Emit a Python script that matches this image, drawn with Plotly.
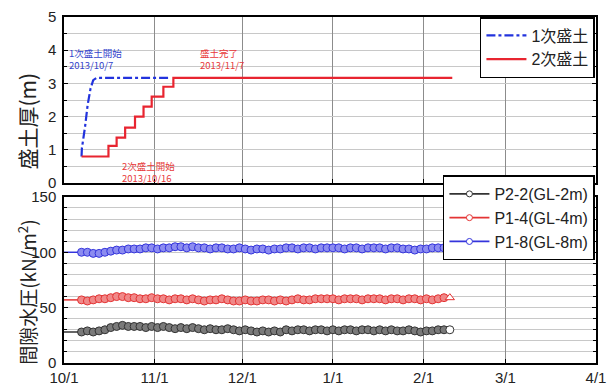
import plotly.graph_objects as go
import pandas as pd

# ---- top panel: embankment thickness (m) ----
fill1_dates = ["2013-10-07 00:00", "2013-10-07 03:00", "2013-10-08 05:00", "2013-10-09 02:00",
               "2013-10-10 02:00", "2013-10-11 00:00", "2013-10-12 05:00", "2013-11-06 07:00"]
fill1_vals = [0.8, 1.05, 1.7, 2.35, 2.85, 3.1, 3.17, 3.17]

fill2_dates = ["2013-10-07 00:00", "2013-10-16 05:00", "2013-10-19 00:00", "2013-10-21 22:00",
               "2013-10-25 07:00", "2013-10-28 05:00", "2013-10-31 00:00", "2013-11-04 00:00",
               "2013-11-07 10:00", "2014-02-10 20:00"]
fill2_vals = [0.8, 1.12, 1.37, 1.67, 2.0, 2.3, 2.6, 2.9, 3.17, 3.17]

# ---- bottom panel: pore water pressure (kN/m2), every 2 days from 2013-10-07 ----
start_date = "2013-10-07"
lead_dates = ["2013-10-01", "2013-10-07"]
p22 = [28, 29, 28, 29, 30,
       32, 33, 34, 33, 33,
       33, 32, 33, 32, 33, 32, 31, 32,
       31, 32, 31, 30, 31, 30, 30, 31, 30, 29,
       30, 29, 28, 29, 28, 29, 28, 30, 29, 30, 30, 29, 30, 30, 29,
       30, 29, 30, 30, 29, 30, 30, 29, 30, 29, 30, 29, 29, 30, 29, 28, 29, 29, 30, 30, 30]
p14 = [57, 56, 57, 58, 58,
       59, 60, 60, 59, 59,
       58, 58, 59, 58, 58, 57, 58, 58,
       57, 58, 57, 56, 57, 57, 58, 57, 56, 56,
       57, 56, 56, 57, 57, 56, 57, 56, 57, 58, 57, 57, 58, 58, 58,
       58, 57, 58, 58, 58, 57, 58, 58, 58, 57, 58, 58, 57, 58, 58, 57, 58, 57, 58, 59, 59]
p18 = [100, 100, 99, 99, 100,
       101, 102, 102, 103, 103,
       103, 104, 104, 103, 104, 104, 105, 105,
       104, 105, 104, 104, 103, 104, 104, 103, 103, 104,
       103, 102, 103, 103, 102, 103, 103, 104, 104, 103, 104, 104, 103, 104, 104,
       104, 104, 103, 104, 104, 103, 104, 104, 104, 103, 104, 104, 103, 103, 102, 103, 103, 104, 104, 104, 105]
lead_vals = {"p22": 28, "p14": 57, "p18": 100}

x_ticks = ["2013-10-01", "2013-11-01", "2013-12-01", "2014-01-01", "2014-02-01", "2014-03-01", "2014-04-01"]
x_ticklabels = ["10/1", "11/1", "12/1", "1/1", "2/1", "3/1", "4/1"]

FONT = "Liberation Sans, Arial, Noto Sans CJK JP"
JP = "Noto Sans CJK JP, Liberation Sans"

fig = go.Figure()

fig.add_trace(go.Scatter(x=fill1_dates, y=fill1_vals, mode="lines", name="1次盛土",
                         line=dict(color="#2233dd", width=2.2, dash="dashdot"),
                         xaxis="x", yaxis="y", legend="legend"))
fig.add_trace(go.Scatter(x=fill2_dates, y=fill2_vals, mode="lines", name="2次盛土",
                         line=dict(color="#e82530", width=2.2, shape="hv"),
                         xaxis="x", yaxis="y", legend="legend"))

series = [
    ("P2-2(GL-2m)", p22, "p22", "#333333", "#7a7a7a", "circle"),
    ("P1-4(GL-4m)", p14, "p14", "#e43434", "#f08888", "triangle-up"),
    ("P1-8(GL-8m)", p18, "p18", "#3434dc", "#8c8cf0", "square"),
]
for name, vals, key, col, fillc, endsym in series:
    dates = pd.date_range(start_date, periods=len(vals), freq="2D")
    n = len(vals)
    fig.add_trace(go.Scatter(x=lead_dates, y=[lead_vals[key]] * 2, mode="lines",
                             line=dict(color=col, width=1.5), showlegend=False,
                             xaxis="x2", yaxis="y2", hoverinfo="skip"))
    fig.add_trace(go.Scatter(x=dates, y=vals, mode="lines+markers", showlegend=False,
                             line=dict(color=col, width=1.5),
                             marker=dict(size=8,
                                         symbol=["circle"] * (n - 1) + [endsym],
                                         color=[fillc] * (n - 1) + ["white"],
                                         line=dict(color=col, width=1)),
                             xaxis="x2", yaxis="y2"))
    fig.add_trace(go.Scatter(x=[None], y=[None], mode="lines+markers", name=name,
                             line=dict(color=col, width=1.8),
                             marker=dict(symbol="circle", size=6, color="white",
                                         line=dict(color=col, width=1)),
                             xaxis="x2", yaxis="y2", legend="legend2"))

xcommon = dict(type="date", range=["2013-10-01", "2014-04-01"], tickvals=x_ticks,
               showgrid=True, gridcolor="#8c8c8c", gridwidth=1,
               showline=True, linecolor="black", linewidth=1.5, mirror=True,
               ticks="inside", ticklen=4, tickcolor="black", zeroline=False,
               automargin=False)

fig.update_layout(
    width=609, height=383,
    margin=dict(l=64, r=13, t=17, b=20, autoexpand=False),
    paper_bgcolor="white", plot_bgcolor="white",
    font=dict(family=FONT, color="#222", size=14),
    xaxis=dict(**xcommon, domain=[0, 1], anchor="y", showticklabels=False, matches="x2"),
    yaxis=dict(domain=[0.52, 1.0], range=[0, 5], dtick=1, anchor="x", automargin=False,
               showgrid=True, gridcolor="#c8c8c8", gridwidth=1,
               minor=dict(dtick=0.5, showgrid=True, gridcolor="#c8c8c8", ticks="inside",
                          ticklen=3, tickcolor="black"),
               showline=True, linecolor="black", linewidth=1.5, mirror="allticks",
               ticks="inside", ticklen=4, tickcolor="black", zeroline=False,
               tickfont=dict(size=15, family=FONT), ticklabelstandoff=3),
    xaxis2=dict(**xcommon, domain=[0, 1], anchor="y2", ticktext=x_ticklabels,
                tickfont=dict(size=15, family=FONT), ticklabelstandoff=0),
    yaxis2=dict(domain=[0, 0.48], range=[0, 150], dtick=50, anchor="x2", automargin=False,
                showgrid=True, gridcolor="#c8c8c8", gridwidth=1,
                minor=dict(dtick=10, showgrid=True, gridcolor="#c8c8c8", ticks="inside",
                           ticklen=3, tickcolor="black"),
                showline=True, linecolor="black", linewidth=1.5, mirror="allticks",
                ticks="inside", ticklen=4, tickcolor="black", zeroline=False,
                tickfont=dict(size=15, family=FONT), ticklabelstandoff=3),
    legend=dict(x=0.998, y=1.0, xanchor="right", yanchor="top", bgcolor="white",
                bordercolor="black", borderwidth=1.5,
                font=dict(size=16, family=FONT, color="#222"),
                tracegroupgap=0, itemwidth=40),
    legend2=dict(x=0.998, y=0.542, xanchor="right", yanchor="top", bgcolor="white",
                 bordercolor="black", borderwidth=1.5,
                 font=dict(size=16, family=FONT, color="#222"),
                 tracegroupgap=0, itemwidth=40),
    showlegend=True,
)

annos = [
    dict(text="1次盛土開始<br>2013/10/7", x="2013-10-02", y=4.2, color="#3344cc", yanchor="top", ys=0),
    dict(text="盛土完了<br>2013/11/7", x="2013-11-16", y=4.2, color="#e83a3a", yanchor="top", ys=0),
    dict(text="2次盛土開始<br>2013/10/16", x="2013-10-20", y=0, color="#e83a3a", yanchor="bottom", ys=-4),
]
for a in annos:
    fig.add_annotation(text=a["text"], x=a["x"], y=a["y"], xref="x", yref="y",
                       xanchor="left", yanchor=a["yanchor"], yshift=a["ys"],
                       showarrow=False, align="left",
                       font=dict(size=9.5, color=a["color"], family=JP))

fig.add_annotation(text="盛土厚(m)", x=-0.07, y=0.70, xref="paper", yref="paper",
                   textangle=-90, showarrow=False, xanchor="center", yanchor="middle",
                   font=dict(size=21, family=JP, color="#222"))
fig.add_annotation(text="間隙水圧(kN/m<sup>2</sup>)", x=-0.07, y=0.205, xref="paper", yref="paper",
                   textangle=-90, showarrow=False, xanchor="center", yanchor="middle",
                   font=dict(size=19, family=JP, color="#222"))

fig.write_html("out.html")
